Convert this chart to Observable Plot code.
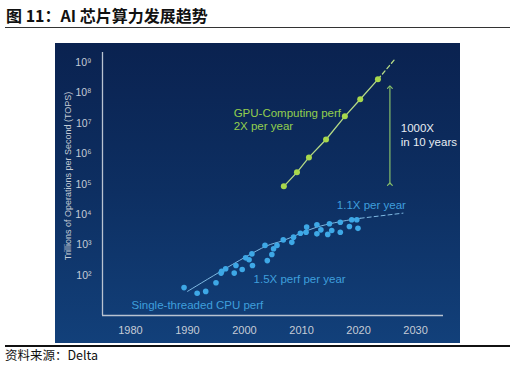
<!DOCTYPE html>
<html><head><meta charset="utf-8">
<script src="https://cdn.jsdelivr.net/npm/d3@7"></script>
<script src="https://cdn.jsdelivr.net/npm/@observablehq/plot@0.6"></script>
<style>
html,body{margin:0;padding:0;background:#fff;width:515px;height:366px;overflow:hidden;}
body{position:relative;font-family:"Noto Sans CJK SC","Noto Sans",sans-serif;}
#title{position:absolute;left:6px;top:7px;font-size:16px;line-height:1;font-weight:bold;color:#111;white-space:nowrap;}
#tline{position:absolute;left:5px;top:27px;width:505px;height:1px;background:#333;}
#chart{position:absolute;left:55px;top:43px;}
#bline{position:absolute;left:5px;top:345px;width:505px;height:1.5px;background:#111;}
#cap{position:absolute;left:5px;top:349px;font-size:12.5px;line-height:1;color:#111;white-space:nowrap;}
</style></head><body>
<div id="title">图 11：AI 芯片算力发展趋势</div>
<div id="tline"></div>
<div id="chart"></div>
<div id="bline"></div>
<div id="cap">资料来源：Delta</div>
<script>
// ---- data ----
const xTicks = [1980, 1990, 2000, 2010, 2020, 2030];
const yTicks = [1e2, 1e3, 1e4, 1e5, 1e6, 1e7, 1e8, 1e9];

const gpuYears = [2006.9, 2009.2, 2011.3, 2014.3, 2017.6, 2020.3, 2023.4];
const gpuTops  = [8.5e4, 2.45e5, 7.6e5, 2.95e6, 1.7e7, 6.2e7, 2.8e8];
const gpuDashYears = [2023.4, 2026.4];
const gpuDashTops  = [2.8e8, 1.3e9];

const cpuYears = [1989.4, 1991.7, 1993.2, 1995.0, 1995.9, 1996.0, 1996.7, 1998.2, 1998.5, 1999.6,
  2000.2, 2000.8, 2001.3, 2001.4, 2003.6, 2004.0, 2004.8, 2005.1, 2005.7, 2006.8,
  2008.3, 2008.6, 2009.8, 2010.8, 2010.9, 2012.7, 2012.7, 2013.4, 2014.6, 2014.9,
  2015.3, 2016.8, 2016.8, 2018.4, 2018.8, 2019.7, 2019.9];
const cpuTops = [40, 26, 30, 58, 120, 138, 166, 120, 214, 158,
  380, 331, 513, 214, 977, 309, 490, 759, 977, 1480,
  1230, 1820, 2450, 2630, 3890, 4680, 2340, 3160, 2240, 5010,
  3020, 5620, 2630, 4070, 6760, 6760, 3550];

const cpuTrendYears = [1990.0, 2003.6, 2006.8, 2012.7, 2018.5, 2020.3];
const cpuTrendTops  = [30, 890, 1410, 3890, 6760, 7590];
const cpuDashYears = [2020.3, 2027.8];
const cpuDashTops  = [7590, 11200];

const arrowYear = 2025.5;
const arrowFrom = 1.0e5;
const arrowTo = 1.55e8;

const gpuLabels = ["GPU-Computing perf", "2X per year"];
const gpuLabelYear = 1998.1;
const gpuLabelTops = [2.1e7, 7.9e6];
const noteLabels = ["1000X", "in 10 years"];
const noteYear = 2027.4;
const noteTops = [6.8e6, 2.3e6];
const cpuLabels = ["1.1X per year", "1.5X perf per year", "Single-threaded CPU perf"];
const cpuLabelYears = [2016.2, 2001.6, 1980.2];
const cpuLabelTops = [2.1e4, 74, 10.2];

const yTitle = "Trillions of Operations per Second (TOPS)";

// ---- tables ----
const zip = (xs, ys) => xs.map((x, i) => ({x, y: ys[i]}));
const gpu = zip(gpuYears, gpuTops);
const gpuDash = zip(gpuDashYears, gpuDashTops);
const cpu = zip(cpuYears, cpuTops);
const cpuTrend = zip(cpuTrendYears, cpuTrendTops);
const cpuDash = zip(cpuDashYears, cpuDashTops);
const gpuText = gpuLabels.map((t, i) => ({t, x: gpuLabelYear, y: gpuLabelTops[i]}));
const noteText = noteLabels.map((t, i) => ({t, x: noteYear, y: noteTops[i]}));
const cpuText = cpuLabels.map((t, i) => ({t, x: cpuLabelYears[i], y: cpuLabelTops[i]}));

const sup = {2:"²",3:"³",4:"⁴",5:"⁵",6:"⁶",7:"⁷",8:"⁸",9:"⁹"};
const xDomain = [1975.1, 2034.9];
const yDomain = [4.85, 2.13e9];

const GREEN_DOT = "#a8d84c", GREEN_LINE = "#b4da86", GREEN_TXT = "#93cf4e", ARROW = "#86bf6a";
const BLUE_DOT = "#3ea8e6", BLUE_LINE = "#7fb9e2", BLUE_TXT = "#3f9fdc";

const chart = Plot.plot({
  width: 405, height: 300,
  marginLeft: 47, marginRight: 17, marginTop: 9, marginBottom: 28,
  style: {
    background: "linear-gradient(180deg,#0a2250 0%,#0d2f62 50%,#12407a 100%)",
    fontFamily: "'Liberation Sans', Arial, sans-serif",
    color: "#c5ccd6",
    overflow: "visible"
  },
  x: {domain: xDomain, axis: null},
  y: {type: "log", domain: yDomain, axis: null},
  marks: [
    Plot.axisX({ticks: xTicks, tickSize: 0, tickPadding: 11, tickFormat: d => String(d), fontSize: 11, label: null}),
    Plot.axisY({ticks: yTicks, tickSize: 0, tickPadding: 11, tickFormat: d => "10" + sup[Math.round(Math.log10(d))], fontSize: 10.5, label: null}),
    Plot.ruleX([xDomain[0]], {stroke: "#b9c3d1", strokeWidth: 1.3}),
    Plot.ruleY([yDomain[0]], {stroke: "#b9c3d1", strokeWidth: 1.3}),
    Plot.text([yTitle], {frameAnchor: "left", textAnchor: "middle", rotate: -90, dx: -34, dy: -8, fontSize: 9, fill: "#c5ccd6"}),
    // CPU
    Plot.line(cpuTrend, {x: "x", y: "y", stroke: BLUE_LINE, strokeWidth: 1, curve: "catmull-rom"}),
    Plot.line(cpuDash, {x: "x", y: "y", stroke: BLUE_LINE, strokeWidth: 1, strokeDasharray: "4,3"}),
    Plot.dot(cpu, {x: "x", y: "y", r: 2.8, fill: BLUE_DOT}),
    Plot.text(cpuText, {x: "x", y: "y", text: "t", textAnchor: "start", fontSize: 11.5, fill: BLUE_TXT}),
    // GPU
    Plot.line(gpu, {x: "x", y: "y", stroke: GREEN_LINE, strokeWidth: 1.3}),
    Plot.line(gpuDash, {x: "x", y: "y", stroke: GREEN_LINE, strokeWidth: 1.3, strokeDasharray: "4,3"}),
    Plot.dot(gpu, {x: "x", y: "y", r: 3, fill: GREEN_DOT}),
    Plot.text(gpuText, {x: "x", y: "y", text: "t", textAnchor: "start", fontSize: 11.5, fill: GREEN_TXT}),
    Plot.link([{x: arrowYear, y1: arrowFrom, y2: arrowTo}], {x1: "x", x2: "x", y1: "y1", y2: "y2", stroke: ARROW, strokeWidth: 1.2, markerStart: "arrow", markerEnd: "arrow"}),
    Plot.text(noteText, {x: "x", y: "y", text: "t", textAnchor: "start", fontSize: 11.5, fill: "#e8edf3"})
  ]
});
document.getElementById("chart").appendChild(chart);
</script>
</body></html>
